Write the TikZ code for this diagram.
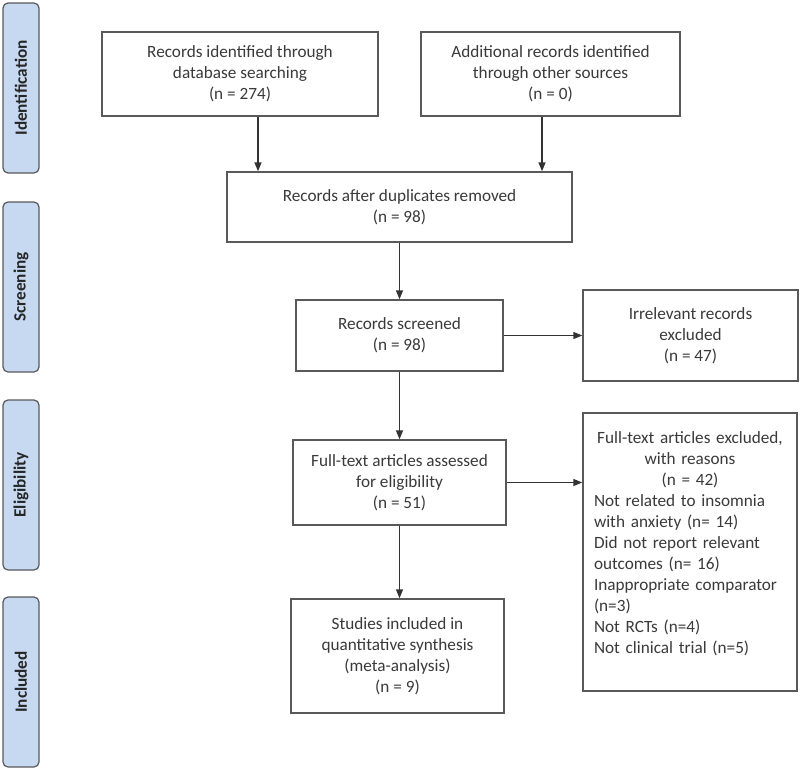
\documentclass[tikz,border=0pt]{standalone}
\usepackage{fontspec}
\setmainfont{Carlito}
\usetikzlibrary{arrows.meta,positioning}
\definecolor{phasefill}{HTML}{C6D9F1}
\definecolor{edgegray}{HTML}{595959}
\definecolor{textgray}{HTML}{3A3A3A}

\begin{document}
\begin{tikzpicture}[x=1pt,y=-1pt,
	box/.style={draw=edgegray,line width=1.4pt,fill=white,text=textgray,align=center,inner sep=0pt,font=\fontsize{17.2}{21}\selectfont},
	phase/.style={draw=edgegray,line width=1.2pt,fill=phasefill,rounded corners=5pt,rotate=90,minimum width=170pt,minimum height=36pt,inner sep=0pt,font=\fontsize{17.2}{21}\selectfont\bfseries,text=black!85},
	flow/.style={draw=black!80,line width=1.4pt,-{Triangle[length=9pt,width=7pt]}}]
	\useasboundingbox (0,0) rectangle (800,771);
	\node[phase] (idPhase) at (21,88) {Identification};
	\node[phase] (scrPhase) at (21,287) {Screening};
	\node[phase] (eligPhase) at (21,485) {Eligibility};
	\node[phase] (inclPhase) at (21,682) {Included};

	\node[box,minimum width=276pt,minimum height=84pt] (dbRec) at (240,74) {Records identified through\\database searching\\(n = 274)};
	\node[box,minimum width=259pt,minimum height=84pt] (otherRec) at (550.5,74) {Additional records identified\\through other sources\\(n = 0)};
	\node[box,minimum width=345pt,minimum height=70pt] (dedup) at (399.5,207) {Records after duplicates removed\\(n = 98)};
	\node[box,minimum width=207pt,minimum height=71pt] (screened) at (399.5,335.5) {Records screened\\(n = 98)};
	\node[box,minimum width=215pt,minimum height=91pt] (irrel) at (690.5,335.5) {Irrelevant records\\excluded\\(n = 47)};
	\node[box,minimum width=213pt,minimum height=85pt] (fullText) at (399.5,482.5) {Full-text articles assessed\\for eligibility\\(n = 51)};
	\node[box,minimum width=214pt,minimum height=278pt,text width=192pt,align=left] (fullExcl) at (690,552) {{\centering Full-text articles excluded,\\with reasons\\(n = 42)\par}Not related to insomnia\\with anxiety (n= 14)\\Did not report relevant\\outcomes (n= 16)\\Inappropriate comparator\\(n=3)\\Not RCTs (n=4)\\Not clinical trial (n=5)\rule[-19pt]{0pt}{19pt}};
	\node[box,minimum width=213pt,minimum height=114pt] (synth) at (397.5,656) {Studies included in\\quantitative synthesis\\(meta-analysis)\\(n = 9)};

	\draw[flow] ([xshift=18pt]dbRec.south) -- ([xshift=18pt]dbRec.south |- dedup.north);
	\draw[flow] ([xshift=-8.5pt]otherRec.south) -- ([xshift=-8.5pt]otherRec.south |- dedup.north);
	\draw[flow] (dedup.south) -- (screened.north);
	\draw[flow] (screened.east) -- (irrel.west);
	\draw[flow] (screened.south) -- (fullText.north);
	\draw[flow] (fullText.east) -- (fullText.east -| fullExcl.west);
	\draw[flow] (fullText.south) -- (fullText.south |- synth.north);
\end{tikzpicture}
\end{document}
